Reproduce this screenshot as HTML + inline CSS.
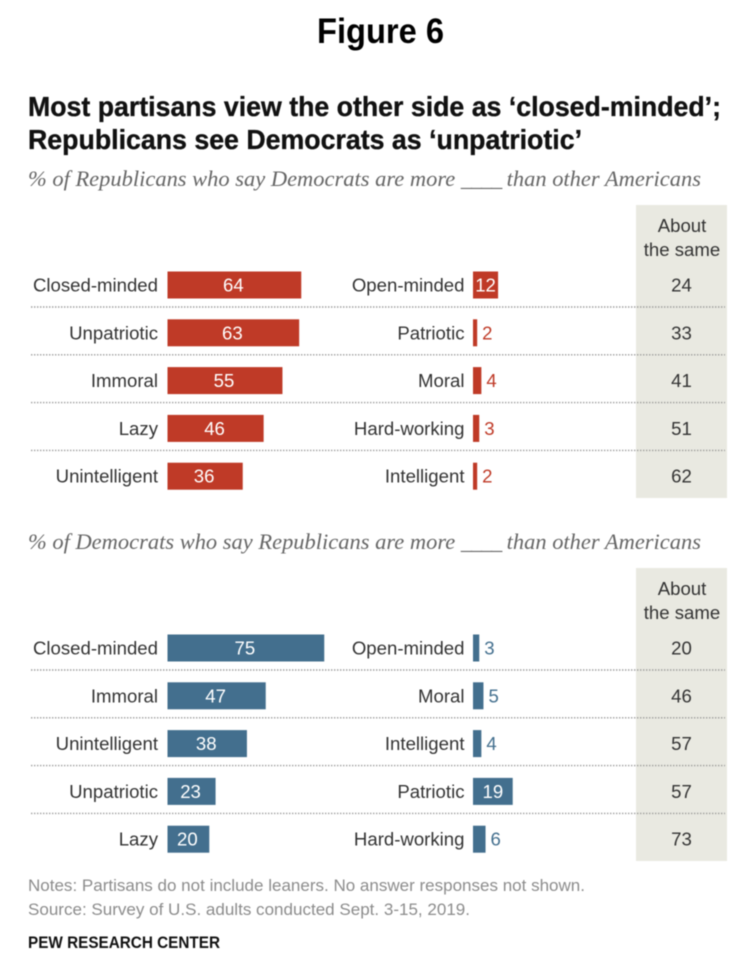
<!DOCTYPE html>
<html>
<head>
<meta charset="utf-8">
<style>
html,body{margin:0;padding:0;background:#fff;width:751px;height:975px;overflow:hidden}
svg{display:block;font-family:"Liberation Sans",sans-serif;filter:blur(0.45px)}
</style>
</head>
<body>
<svg id="chart" width="751" height="975" viewBox="0 0 751 975" xmlns="http://www.w3.org/2000/svg">
<text x="317" y="43" font-size="35" font-weight="700" fill="#000" textLength="127" lengthAdjust="spacingAndGlyphs">Figure 6</text>
<text x="28" y="116" font-size="28" font-weight="700" fill="#111" stroke="#111" stroke-width="0.35" textLength="693" lengthAdjust="spacingAndGlyphs">Most partisans view the other side as ‘closed-minded’;</text>
<text x="28" y="149" font-size="28" font-weight="700" fill="#111" stroke="#111" stroke-width="0.35" textLength="554" lengthAdjust="spacingAndGlyphs">Republicans see Democrats as ‘unpatriotic’</text>
<text x="28" y="186" font-size="22.5" font-style="italic" fill="#666" font-family="Liberation Serif, serif" textLength="673" lengthAdjust="spacingAndGlyphs">% of Republicans who say Democrats are more <tspan letter-spacing="-1.2">____</tspan> than other Americans</text>
<text x="28" y="549" font-size="22.5" font-style="italic" fill="#666" font-family="Liberation Serif, serif" textLength="673" lengthAdjust="spacingAndGlyphs">% of Democrats who say Republicans are more <tspan letter-spacing="-1.2">____</tspan> than other Americans</text>
<g id="rep-panel"></g>
<g id="dem-panel"></g>
<text x="28" y="891" font-size="17" fill="#8c8c8c" textLength="557" lengthAdjust="spacingAndGlyphs">Notes: Partisans do not include leaners. No answer responses not shown.</text>
<text x="28" y="915" font-size="17" fill="#8c8c8c" textLength="442" lengthAdjust="spacingAndGlyphs">Source: Survey of U.S. adults conducted Sept. 3-15, 2019.</text>
<text x="28" y="948" font-size="17" font-weight="700" fill="#111" textLength="192" lengthAdjust="spacingAndGlyphs">PEW RESEARCH CENTER</text>
</svg>
<script>
const repNegativeLabels = ['Closed-minded', 'Unpatriotic', 'Immoral', 'Lazy', 'Unintelligent'];
const repPositiveLabels = ['Open-minded', 'Patriotic', 'Moral', 'Hard-working', 'Intelligent'];
const repNegativeValues = [64, 63, 55, 46, 36];
const repPositiveValues = [12, 2, 4, 3, 2];
const repSameValues = [24, 33, 41, 51, 62];

const demNegativeLabels = ['Closed-minded', 'Immoral', 'Unintelligent', 'Unpatriotic', 'Lazy'];
const demPositiveLabels = ['Open-minded', 'Moral', 'Intelligent', 'Patriotic', 'Hard-working'];
const demNegativeValues = [75, 47, 38, 23, 20];
const demPositiveValues = [3, 5, 4, 19, 6];
const demSameValues = [20, 46, 57, 57, 73];

const SVGNS = 'http://www.w3.org/2000/svg';
const NEG_X = 167.5;
const POS_X = 473;
const UNIT = 2.09;
const ROW_STEP = 47.8;
const BAR_H = 27;
const LABEL_SIZE = 18.6;
const barWidth = v => v * UNIT;

function make(parent, tag, attrs, content) {
  const el = document.createElementNS(SVGNS, tag);
  for (const k in attrs) el.setAttribute(k, attrs[k]);
  if (content !== undefined) el.textContent = content;
  parent.appendChild(el);
  return el;
}

function drawPanel(parent, top, color, negLabels, negValues, posLabels, posValues, sameValues) {
  const rowY = i => top + 80 + i * ROW_STEP;

  const bg = make(parent, 'rect', {x: 636, y: top, width: 91, height: 293, fill: '#e9e9e1'});
  
  

  const h1 = make(parent, 'text', {x: 682, y: top + 27, 'font-size': LABEL_SIZE, fill: '#333', 'text-anchor': 'middle'}, 'About');
  
  
  const h2 = make(parent, 'text', {x: 682, y: top + 51, 'font-size': LABEL_SIZE, fill: '#333', 'text-anchor': 'middle'}, 'the same');
  
  

  negValues.forEach((v, i) => {
    const cy = rowY(i);

    if (i < negValues.length - 1) {
      const sep = make(parent, 'line', {x1: 31, x2: 725, y1: cy + 22, y2: cy + 22, stroke: '#9a9a9a', 'stroke-width': 1.4, 'stroke-dasharray': '1.4 1.6'});
      
      
    }

    const negLabel = make(parent, 'text', {x: 158, y: cy + 6.5, 'font-size': LABEL_SIZE, fill: '#333', 'text-anchor': 'end'}, negLabels[i]);
    
    

    const negBar = make(parent, 'rect', {x: NEG_X, y: cy - BAR_H / 2, width: barWidth(v), height: BAR_H, fill: color});
    
    

    const negVal = make(parent, 'text', {x: NEG_X + barWidth(v) / 2 - 1, y: cy + 6.5, 'font-size': LABEL_SIZE, fill: '#fff', 'text-anchor': 'middle'}, v);
    
    

    const posLabel = make(parent, 'text', {x: 464.5, y: cy + 6.5, 'font-size': LABEL_SIZE, fill: '#333', 'text-anchor': 'end'}, posLabels[i]);
    
    

    const pv = posValues[i];
    const posBar = make(parent, 'rect', {x: POS_X, y: cy - BAR_H / 2, width: barWidth(pv), height: BAR_H, fill: color});
    
    

    const inside = pv >= 10;
    const posVal = make(parent, 'text', {
      x: inside ? POS_X + barWidth(pv) / 2 : POS_X + barWidth(pv) + 5,
      y: cy + 6.5,
      'font-size': LABEL_SIZE,
      fill: inside ? '#fff' : color,
      'text-anchor': inside ? 'middle' : 'start'
    }, pv);
    
    

    const same = make(parent, 'text', {x: 681.5, y: cy + 6.5, 'font-size': LABEL_SIZE, fill: '#333', 'text-anchor': 'middle'}, sameValues[i]);
    
    
  });
}

drawPanel(document.getElementById('rep-panel'), 205, '#bf3a27', repNegativeLabels, repNegativeValues, repPositiveLabels, repPositiveValues, repSameValues);
drawPanel(document.getElementById('dem-panel'), 568, '#436f8e', demNegativeLabels, demNegativeValues, demPositiveLabels, demPositiveValues, demSameValues);
</script>
</body>
</html>
